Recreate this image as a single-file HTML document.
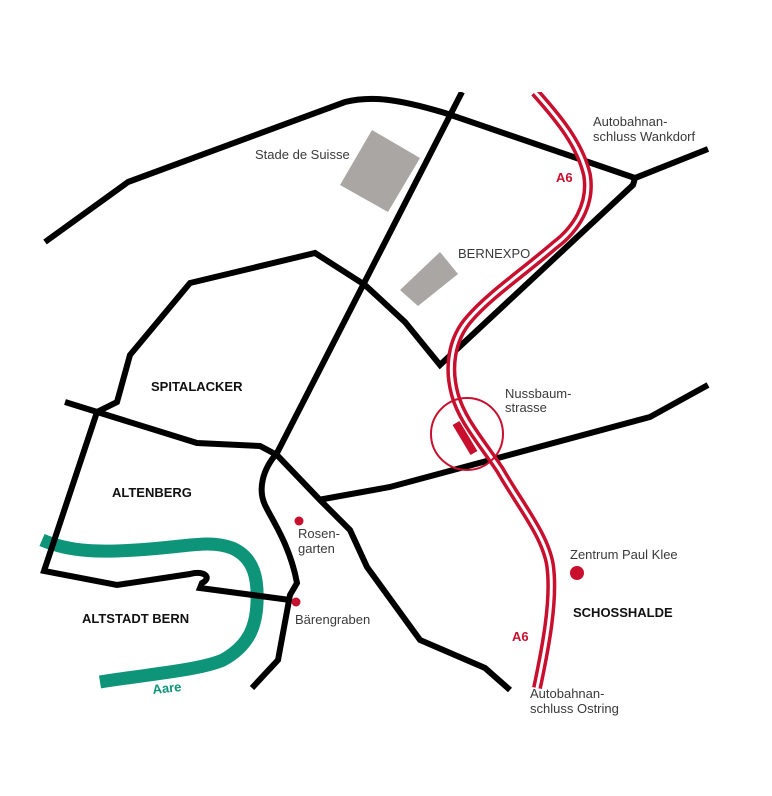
<!DOCTYPE html>
<html><head><meta charset="utf-8"><style>
html,body{margin:0;padding:0;background:#fff;}
svg{display:block;}
text{font-family:"Liberation Sans",sans-serif;font-size:13px;fill:#3a3a3a;}
.b{font-weight:bold;fill:#111;font-size:13px;}
.r{fill:#c8102e;font-weight:bold;font-size:13px;}
</style></head><body>
<svg width="772" height="796" viewBox="0 0 772 796" xmlns="http://www.w3.org/2000/svg">
<polygon points="340,185 372,130 420,158 388,212" fill="#aaa6a4"/>
<polygon points="400,290 440,252 458,274 418,306" fill="#aaa6a4"/>
<path d="M42,540 C70,552 100,553 150,549 C190,546 210,540 232,548 C255,558 258,580 257,603 C256,625 250,645 223,660 C200,670 150,674 100,682" fill="none" stroke="#0e9579" stroke-width="13"/>
<g fill="none" stroke="#000" stroke-width="6" stroke-linejoin="miter">
<path d="M45,242 L128,182 L345,102 C370,96 395,98 445,113 L635,178 L708,149"/>
<path d="M462,92 L277,453 C262,470 258,490 265,505 C272,520 290,545 297,583 L290,595 L278,660 L252,688"/>
<path d="M65,402 L197,443 L260,446 L277,455 L320,500 L350,530 L367,567 L420,640 L485,668 L510,690"/>
<path d="M318,500 L390,487 L650,417 L708,385"/>
<path d="M635,178 L633,185 L440,365 L405,322 L365,285 L315,253 L190,283 L130,355 L117,402 L97,412 L44,571 L117,585 L190,574 C205,570 212,578 202,583 L200,588 L290,600"/>
</g>
<g fill="none">
<path d="M535,92 C560,120 580,145 587,175 C592,205 575,230 555,245 C520,275 490,295 470,318 C450,340 448,370 455,395 C462,420 480,440 500,470 C520,505 545,535 550,565 C555,600 545,650 537,688" stroke="#c8102e" stroke-width="10"/>
<path d="M535,92 C560,120 580,145 587,175 C592,205 575,230 555,245 C520,275 490,295 470,318 C450,340 448,370 455,395 C462,420 480,440 500,470 C520,505 545,535 550,565 C555,600 545,650 537,688" stroke="#fff" stroke-width="3"/>
</g>
<rect x="0" y="80" width="772" height="12" fill="#fff"/>
<circle cx="467" cy="434" r="36" fill="none" stroke="#c8102e" stroke-width="2"/>
<line x1="456" y1="423" x2="474" y2="453" stroke="#c8102e" stroke-width="8"/>
<circle cx="299" cy="521" r="4.5" fill="#c8102e"/>
<circle cx="296" cy="602" r="4.5" fill="#c8102e"/>
<circle cx="577" cy="573" r="7" fill="#c8102e"/>
<text x="255" y="159">Stade de Suisse</text>
<text x="458" y="258">BERNEXPO</text>
<text x="593" y="126">Autobahnan-</text>
<text x="593" y="141">schluss Wankdorf</text>
<text class="r" x="556" y="182">A6</text>
<text x="505" y="398">Nussbaum-</text>
<text x="505" y="412">strasse</text>
<text class="b" x="151" y="391">SPITALACKER</text>
<text class="b" x="112" y="497">ALTENBERG</text>
<text class="b" x="82" y="623">ALTSTADT BERN</text>
<text x="298" y="538">Rosen-</text>
<text x="298" y="553">garten</text>
<text x="295" y="624">Bärengraben</text>
<text x="153" y="694" style="fill:#0e9579;font-weight:bold;font-size:13px" transform="rotate(-6 153 694)">Aare</text>
<text x="570" y="559">Zentrum Paul Klee</text>
<text class="b" x="573" y="617">SCHOSSHALDE</text>
<text class="r" x="512" y="641">A6</text>
<text x="530" y="698">Autobahnan-</text>
<text x="530" y="713">schluss Ostring</text>
</svg>
</body></html>
